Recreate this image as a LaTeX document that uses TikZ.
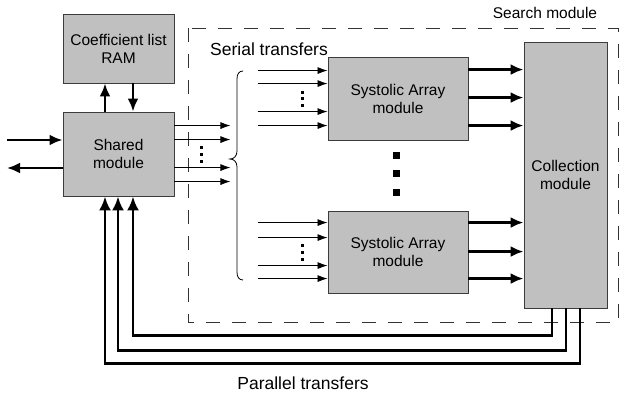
\documentclass[tikz,border=0pt]{standalone}
\usepackage{fontspec}
\setmainfont{Liberation Sans}
\usetikzlibrary{arrows.meta,calc}
\definecolor{boxgray}{RGB}{192,192,192}
\definecolor{edgegray}{RGB}{60,60,60}
\begin{document}
\begin{tikzpicture}[x=1pt,y=-1pt,
  lbl/.style={font=\fontsize{15.5}{18}\selectfont, inner sep=0pt, align=center},
  biglbl/.style={font=\fontsize{17.5}{20}\selectfont, inner sep=0pt, align=center},
  box/.style={lbl, draw=edgegray, fill=boxgray, line width=0.9pt},
  thinarr/.style={line width=0.8pt, -{Latex[length=10pt,width=7pt]}},
  thickarr/.style={line width=2.6pt, -{Latex[length=13pt,width=11pt]}},
  fbarr/.style={line width=2.6pt, -{Latex[length=14pt,width=12pt]}},
  dotsq/.style={fill=black, inner sep=0pt, minimum size=3pt},
  bigdot/.style={fill=black, inner sep=0pt, minimum size=7pt},
  frame/.style={line width=0.8pt, dash pattern=on 14pt off 12pt, draw=black!80}
]
\useasboundingbox (0,0) rectangle (622,399);

% dashed search module frame
\draw[frame] (188,28) rectangle (618,322);
\node[lbl] (searchlbl) at (545,13) {Search module};
\node[biglbl] (seriallbl) at (269,49) {Serial transfers};
\node[biglbl] (parallbl) at (303,383) {Parallel transfers};

% boxes
\node[box, minimum width=111pt, minimum height=69pt] (coef) at (118.5,48.5) {Coefficient list\\RAM};
\node[box, minimum width=111pt, minimum height=84pt] (shared) at (118.5,154) {Shared\\module};
\node[box, minimum width=140pt, minimum height=83pt] (sa1) at (398,98.5) {Systolic Array\\module};
\node[box, minimum width=140pt, minimum height=82pt] (sa2) at (398,252) {Systolic Array\\module};
\node[box, minimum width=83pt, minimum height=266pt] (coll) at (565.5,175) {Collection\\module};

% coefficient RAM <-> shared
\draw[thickarr] ([xshift=-13.5pt]shared.north) -- ([xshift=-13.5pt]coef.south);
\draw[thickarr] ([xshift=14.5pt]coef.south) -- ([xshift=14.5pt]shared.north);

% external in/out
\coordinate (extin) at (7,140);
\coordinate (extout) at (7,168);
\draw[thickarr] (extin) -- (extin -| shared.west);
\draw[thickarr] (extout -| shared.west) -- (extout);

% shared serial outputs
\foreach \dy [count=\i] in {14,28,56,70} {
  \coordinate (so\i) at ($(shared.north east)+(0,\dy)$);
  \coordinate (se\i) at ($(so\i)+(56,0)$);
  \draw[thinarr] (so\i) -- (se\i);
}
\foreach \y [count=\i] in {147,154,161} \node[dotsq] (sd\i) at (201,\y) {};

% brace
\draw[line width=0.8pt] (243,71) .. controls (239,71) and (237,74) .. (237,79)
  -- (237,151) .. controls (237,156) and (234,159) .. (230,159)
  .. controls (234,159) and (237,162) .. (237,167)
  -- (237,272) .. controls (237,277) and (239,280) .. (243,280);

% systolic array 1 inputs and outputs
\foreach \dy [count=\i] in {14,27,55,69} {
  \coordinate (ai\i) at ($(sa1.north west)+(-70,\dy)$);
  \draw[thinarr] (ai\i) -- (ai\i -| sa1.west);
}
\foreach \y [count=\i] in {92,98.5,105} \node[dotsq] (ad\i) at (302,\y) {};
\foreach \dy [count=\i] in {13,41,69} {
  \coordinate (ao\i) at ($(sa1.north east)+(0,\dy)$);
  \draw[thickarr] (ao\i) -- (ao\i -| coll.west);
}

% systolic array 2 inputs and outputs
\foreach \dy [count=\i] in {12,27,55,68} {
  \coordinate (bi\i) at ($(sa2.north west)+(-70,\dy)$);
  \draw[thinarr] (bi\i) -- (bi\i -| sa2.west);
}
\foreach \y [count=\i] in {245,252,259} \node[dotsq] (bd\i) at (302,\y) {};
\foreach \dy [count=\i] in {12,41,68} {
  \coordinate (bo\i) at ($(sa2.north east)+(0,\dy)$);
  \draw[thickarr] (bo\i) -- (bo\i -| coll.west);
}

% vertical ellipsis between arrays
\foreach \y [count=\i] in {155,173.5,192} \node[bigdot] (vd\i) at (396,\y) {};

% parallel feedback
\draw[fbarr] ([xshift=-13.5pt]coll.south) -- ++(0,27) -| ([xshift=14.5pt]shared.south);
\draw[fbarr] ([xshift=0.5pt]coll.south) -- ++(0,42) -| ([xshift=-0.5pt]shared.south);
\draw[fbarr] ([xshift=14.5pt]coll.south) -- ++(0,55) -| ([xshift=-13.5pt]shared.south);
\end{tikzpicture}
\end{document}
